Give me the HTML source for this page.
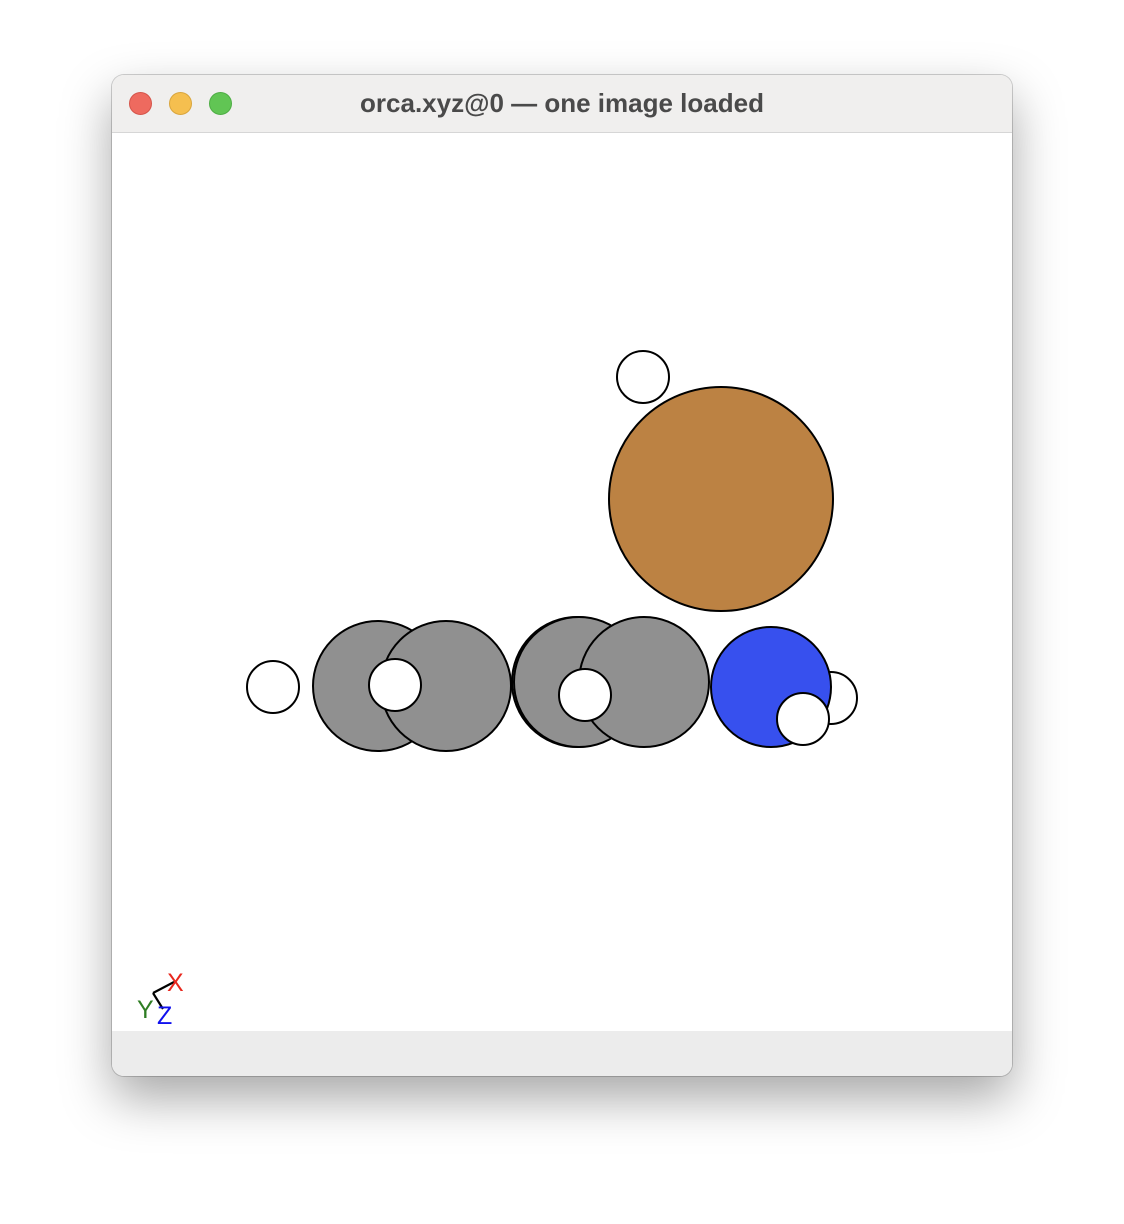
<!DOCTYPE html>
<html><head><meta charset="utf-8">
<style>
html,body{margin:0;padding:0;background:#fff;width:1124px;height:1224px;overflow:hidden;font-family:"Liberation Sans",sans-serif;}
#win{position:absolute;left:112px;top:75px;width:900px;height:1001px;border-radius:12px;background:#fff;overflow:hidden;box-shadow:0 22px 50px rgba(0,0,0,0.35),0 0 0 1px rgba(0,0,0,0.18);}
#title{position:absolute;left:0;top:0;width:900px;height:57px;background:#f0efee;border-bottom:1px solid #d6d6d6;}
#title span{position:absolute;left:0;right:0;top:13px;text-align:center;font-weight:bold;font-size:26px;color:#4a4a4a;}
.dot{position:absolute;top:17px;width:23px;height:23px;border-radius:50%;box-sizing:border-box;}
#bottom{position:absolute;left:0;top:956px;width:900px;height:45px;background:#ececec;}
svg{position:absolute;left:0;top:0;}
</style></head><body>
<div id="win">
 <div id="title">
  <div class="dot" style="left:17px;background:#ee6a5f;border:1px solid #d5544a"></div>
  <div class="dot" style="left:57px;background:#f5bf4f;border:1px solid #d9a53c"></div>
  <div class="dot" style="left:97px;background:#61c554;border:1px solid #4ead44"></div>
  <span>orca.xyz@0 — one image loaded</span>
 </div>
 <div id="bottom"></div>
</div>
<svg id="scene" width="1124" height="1224">
 <g id="atoms"></g>
 <g>
  <line x1="153" y1="993" x2="174" y2="982" stroke="#000" stroke-width="2.2"/>
  <line x1="153" y1="993" x2="163" y2="1009" stroke="#000" stroke-width="2.2"/>
  <text x="167" y="991" font-size="25" fill="#e8281e" font-family="Liberation Sans">X</text>
  <text x="137" y="1018" font-size="25" fill="#2e7d23" font-family="Liberation Sans">Y</text>
  <text x="157" y="1024" font-size="25" fill="#1010ee" font-family="Liberation Sans">Z</text>
 </g>
</svg>
<script>
const atomNames = ["H","Br","H","C","C","H","C","C","C","H","H","N","H"];
const atomX = [643,721,273,378,446,395,577,579,644,585,831,771,803];
const atomY = [377,499,687,686,686,685,682,682,682,695,698,687,719];
const atomR = [26,112,26,65,65,26,65,65,65,26,26,60,26];
const colorOf = {H:"#ffffff",C:"#909090",N:"#3750ee",Br:"#bc8243"};
const g = document.getElementById('atoms');
for (let i = 0; i < atomNames.length; i++) {
  const c = document.createElementNS('http://www.w3.org/2000/svg','circle');
  c.setAttribute('cx', atomX[i]);
  c.setAttribute('cy', atomY[i]);
  c.setAttribute('r', atomR[i]);
  c.setAttribute('fill', colorOf[atomNames[i]]);
  c.setAttribute('stroke', '#000');
  c.setAttribute('stroke-width', '2');
  
  
  g.appendChild(c);
}
</script>
</body></html>
